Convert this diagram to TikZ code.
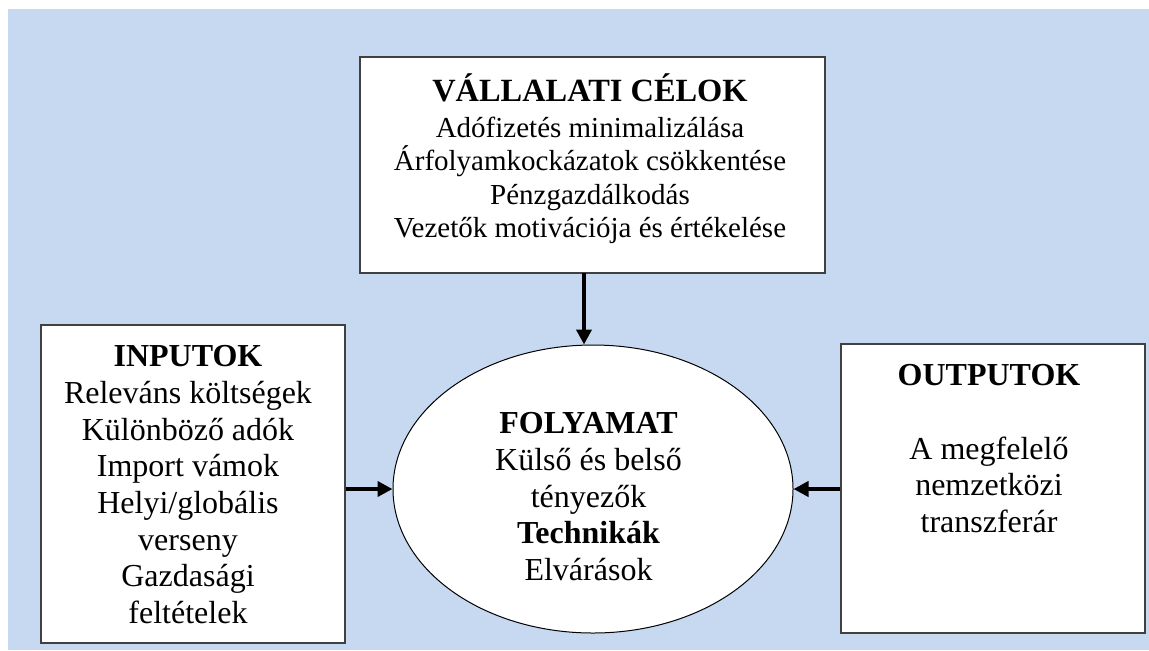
\documentclass[tikz,border=0pt]{standalone}
\usepackage{fontspec}
\setmainfont{Liberation Serif}
\usepackage{xcolor}
\usetikzlibrary{arrows.meta,shapes.geometric}
\definecolor{bgblue}{RGB}{198,217,241}
\definecolor{boxgray}{RGB}{64,64,64}

\tikzset{
  panel/.style={draw=boxgray, line width=0.6pt, fill=white, inner sep=0pt},
  boxtext/.style={align=center, inner sep=0pt, anchor=north, font=\fontsize{16}{18.35}\selectfont},
  flow/.style={-{Triangle[length=7.5pt,width=7.5pt]}, line width=2pt}
}

\begin{document}
\begin{tikzpicture}[x=0.5pt,y=-0.5pt]
\useasboundingbox (0,0) rectangle (1149,650);
\fill[bgblue] (8,9) rectangle (1149,650);

\node[panel, minimum width=232.5pt, minimum height=108pt] (celok) at (592.5,165) {};
\node[boxtext, font=\fontsize{14.5}{16.7}\selectfont] (celoktxt) at (590,73)
  {{\fontsize{16.2}{16.7}\selectfont\textbf{VÁLLALATI CÉLOK}}\\[1.3pt]Adófizetés minimalizálása\\Árfolyamkockázatok csökkentése\\Pénzgazdálkodás\\Vezetők motivációja és értékelése};

\node[panel, minimum width=152pt, minimum height=159pt] (inputok) at (193,484) {};
\node[boxtext] (inputoktxt) at (188,345)
  {\textbf{INPUTOK}\\Releváns költségek\\Különböző adók\\Import vámok\\Helyi/globális\\verseny\\Gazdasági\\feltételek};

\node[panel, minimum width=152pt, minimum height=144.5pt] (outputok) at (993,488.5) {};
\node[boxtext] (outputoktxt) at (989,364)
  {\textbf{OUTPUTOK}\\[18.35pt]A megfelelő\\nemzetközi\\transzferár};

\node[ellipse, draw, fill=white, line width=0.5pt, inner sep=0pt,
  minimum width=200pt, minimum height=144pt] (folyamat) at (593,489) {};
\node[boxtext] (folyamattxt) at (588.5,412)
  {\textbf{FOLYAMAT}\\Külső és belső\\tényezők\\\textbf{Technikák}\\Elvárások};

\coordinate (drop) at (584,273);
\draw[flow] (drop) -- (drop |- folyamat.north);
\draw[flow] (inputok.east |- folyamat.west) -- (folyamat.west);
\draw[flow] (outputok.west |- folyamat.east) -- (folyamat.east);
\end{tikzpicture}
\end{document}
